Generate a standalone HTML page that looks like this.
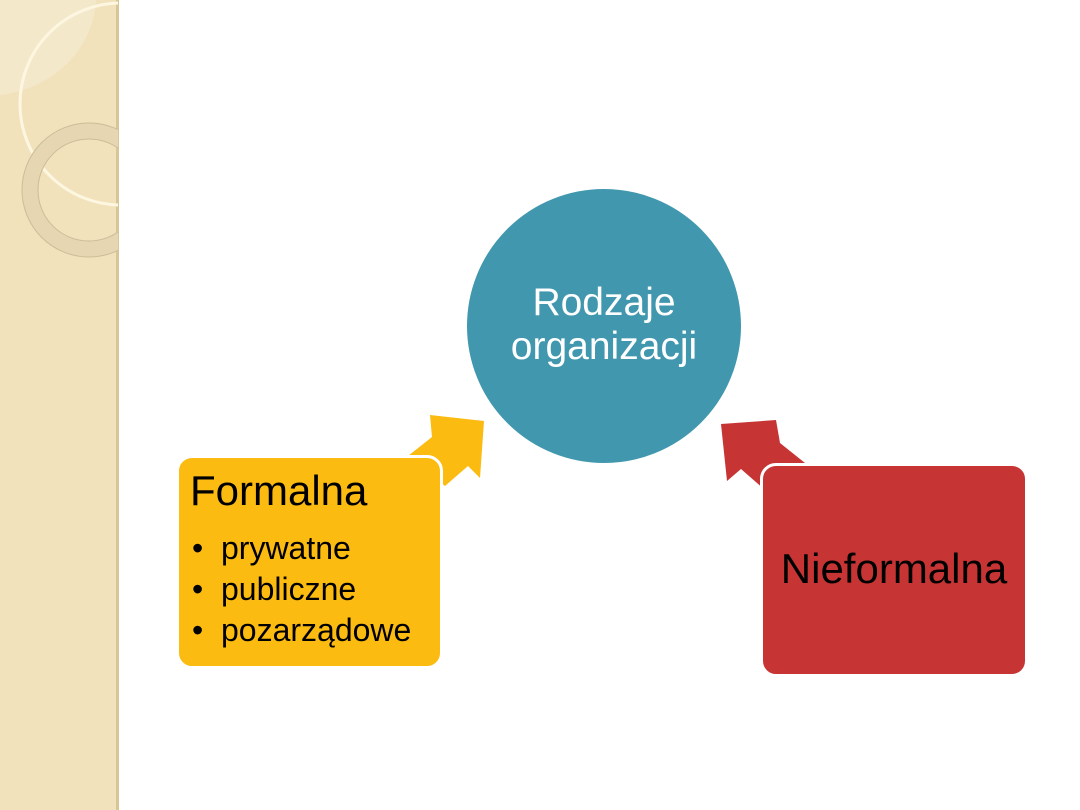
<!DOCTYPE html>
<html><head><meta charset="utf-8"><style>
body{margin:0;width:1080px;height:810px;background:#fff;position:relative;overflow:hidden;font-family:"Liberation Sans",sans-serif;}
.side{position:absolute;left:0;top:0;width:116px;height:810px;background:#f1e2bb;border-right:3px solid #d8c796;}
.box{position:absolute;border-radius:16px;border:3px solid #fff;box-sizing:border-box;}
.t{position:absolute;color:#000;white-space:nowrap;}
</style></head><body>
<div class="side"></div>
<svg style="position:absolute;left:0;top:0" width="118" height="810">
<path d="M0,0 L96,0 A110,100 0 0 1 0,95 Z" fill="#f5ead0" opacity="0.8"/>
<circle cx="121" cy="104" r="101" fill="none" stroke="#fdf6e0" stroke-width="3"/>
<circle cx="89" cy="190" r="59" fill="none" stroke="#e6d7b2" stroke-width="16"/>
<circle cx="89" cy="190" r="67" fill="none" stroke="#cbbd98" stroke-width="1"/>
<circle cx="89" cy="190" r="51" fill="none" stroke="#cbbd98" stroke-width="1"/>
</svg>
<svg style="position:absolute;left:0;top:0" width="1080" height="810">
<circle cx="604" cy="326" r="138" fill="#4097ae" stroke="#fff" stroke-width="2"/>
<polygon points="430,415 484,421 480,478 468,466 445,486 408,456 432,437" fill="#fbbb10"/>
<polygon points="776,420 721,424 727,481 741,469 765,490 805,463 780,443" fill="#c73434"/>
</svg>
<div class="box" style="left:176px;top:455px;width:267px;height:214px;background:#fbbb10"></div>
<div class="t" style="left:190px;top:467px;font-size:42px">Formalna</div>
<div class="t" style="left:192px;top:528px;font-size:32px;line-height:41px">•&nbsp;&nbsp;prywatne<br>•&nbsp;&nbsp;publiczne<br>•&nbsp;&nbsp;pozarządowe</div>
<div class="box" style="left:760px;top:463px;width:268px;height:214px;background:#c73434"></div>
<div class="t" style="left:760px;top:545px;width:268px;text-align:center;font-size:42px">Nieformalna</div>
<div class="t" style="left:466px;top:281px;width:276px;text-align:center;font-size:39px;line-height:44px;color:#fff">Rodzaje<br>organizacji</div>
</body></html>
